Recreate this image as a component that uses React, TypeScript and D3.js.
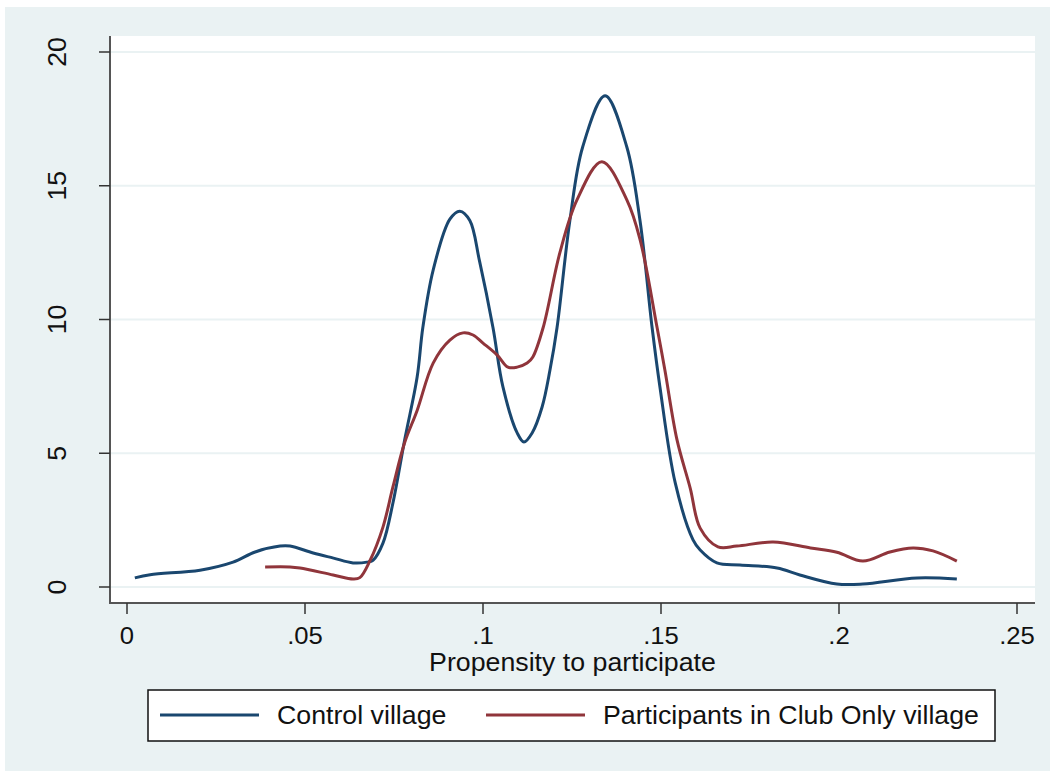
import React from "react";
import * as d3 from "d3";

const xTicks = [0, 0.05, 0.1, 0.15, 0.2, 0.25];
const xTickLabels = ["0", ".05", ".1", ".15", ".2", ".25"];
const yTicks = [0, 5, 10, 15, 20];
const yTickLabels = ["0", "5", "10", "15", "20"];

const seriesNames = ["Control village", "Participants in Club Only village"];
const seriesColors = ["#1a476f", "#90353b"];

const controlX = [0.0022, 0.0065, 0.0205, 0.0298, 0.036, 0.043, 0.0458, 0.0523, 0.058, 0.0635, 0.0674, 0.0691, 0.0719, 0.0747, 0.078, 0.0815, 0.0831, 0.086, 0.0907, 0.0935, 0.0963, 0.099, 0.1028, 0.1056, 0.1096, 0.1115, 0.1138, 0.1166, 0.1188, 0.1208, 0.1244, 0.128, 0.1343, 0.1404, 0.1441, 0.1475, 0.1497, 0.154, 0.159, 0.161, 0.1657, 0.1722, 0.1826, 0.189, 0.1994, 0.2067, 0.2219, 0.2331];
const controlY = [0.34, 0.46, 0.63, 0.93, 1.31, 1.53, 1.53, 1.27, 1.08, 0.9, 0.93, 1.0, 1.64, 3.14, 5.5, 7.85, 9.7, 11.85, 13.75, 14.05, 13.7, 12.2, 9.7, 7.48, 5.76, 5.42, 5.76, 6.73, 8.1, 9.7, 13.7, 16.45, 18.36, 16.45, 13.7, 9.7, 7.48, 3.89, 1.76, 1.38, 0.9, 0.82, 0.71, 0.45, 0.11, 0.11, 0.34, 0.3];

const clubX = [0.0388, 0.0458, 0.0486, 0.0579, 0.0635, 0.0654, 0.0683, 0.0719, 0.0747, 0.078, 0.0815, 0.086, 0.0907, 0.0944, 0.0972, 0.1, 0.104, 0.107, 0.1096, 0.1124, 0.114, 0.1169, 0.1216, 0.1264, 0.1334, 0.1404, 0.1441, 0.1489, 0.1511, 0.1545, 0.1582, 0.161, 0.166, 0.1713, 0.1815, 0.192, 0.1994, 0.2067, 0.2143, 0.2208, 0.2264, 0.2331];
const clubY = [0.75, 0.75, 0.71, 0.45, 0.3, 0.35, 1.0, 2.24, 3.74, 5.4, 6.6, 8.37, 9.23, 9.5, 9.42, 9.12, 8.67, 8.22, 8.22, 8.37, 8.6, 9.7, 12.5, 14.47, 15.9, 14.47, 13.0, 9.7, 8.1, 5.5, 3.7, 2.2, 1.5, 1.53, 1.68, 1.46, 1.3, 0.97, 1.31, 1.46, 1.35, 0.97];

const W = 1050;
const H = 771;
const plotLeft = 110;
const plotRight = 1035;
const plotTop = 36;
const plotBottom = 603;
const bg = "#eaf2f3";
const font = "'Liberation Sans', Arial, sans-serif";
const sx = 1.07;

export default function App() {
  const x = d3.scaleLinear().domain([0, 0.25]).range([127, 1017]);
  const y = d3.scaleLinear().domain([0, 20]).range([587, 52]);
  const line = d3
    .line<[number, number]>()
    .x((d) => x(d[0]))
    .y((d) => y(d[1]))
    .curve(d3.curveCatmullRom.alpha(0.5));

  const control: [number, number][] = controlX.map((v, i) => [v, controlY[i]]);
  const club: [number, number][] = clubX.map((v, i) => [v, clubY[i]]);

  const legendItems = [
    { name: seriesNames[0], color: seriesColors[0], x0: 160 },
    { name: seriesNames[1], color: seriesColors[1], x0: 486 },
  ];

  return (
    <svg
      width={W}
      height={H}
      style={{ position: "absolute", left: 0, top: 0, display: "block", background: "#fff" }}
      fontFamily={font}
    >
      <rect x={5} y={7} width={W - 5} height={H - 7} fill={bg} />
      <rect x={plotLeft} y={plotTop} width={plotRight - plotLeft} height={plotBottom - plotTop} fill="#fff" />
      {yTicks.map((t) => (
        <line key={"g" + t} x1={plotLeft} x2={plotRight} y1={y(t)} y2={y(t)} stroke={bg} strokeWidth={2} />
      ))}
      <path d={line(control) || ""} fill="none" stroke={seriesColors[0]} strokeWidth={3} strokeLinejoin="round" />
      <path d={line(club) || ""} fill="none" stroke={seriesColors[1]} strokeWidth={3} strokeLinejoin="round" />
      <line x1={plotLeft} x2={plotLeft} y1={plotTop} y2={plotBottom + 1} stroke="#555" strokeWidth={2} />
      <line x1={plotLeft - 1} x2={plotRight} y1={plotBottom} y2={plotBottom} stroke="#555" strokeWidth={2} />
      {yTicks.map((t, i) => (
        <g key={"y" + t}>
          <line x1={plotLeft - 11} x2={plotLeft} y1={y(t)} y2={y(t)} stroke="#333" strokeWidth={1.5} />
          <text
            transform={`translate(${66},${y(t)}) rotate(-90) scale(${sx},1)`}
            textAnchor="middle"
            fontSize={25}
            fill="#111"
          >
            {yTickLabels[i]}
          </text>
        </g>
      ))}
      {xTicks.map((t, i) => (
        <g key={"x" + t}>
          <line x1={x(t)} x2={x(t)} y1={plotBottom} y2={plotBottom + 11} stroke="#333" strokeWidth={1.5} />
          <text
            transform={`translate(${x(t)},644) scale(${sx},1)`}
            textAnchor="middle"
            fontSize={24}
            fill="#111"
          >
            {xTickLabels[i]}
          </text>
        </g>
      ))}
      <text
        transform={`translate(${(plotLeft + plotRight) / 2},671) scale(${sx},1)`}
        textAnchor="middle"
        fontSize={25}
        fill="#111"
      >
        Propensity to participate
      </text>
      <rect x={148} y={690} width={847} height={51} fill="#fff" stroke="#111" strokeWidth={1.5} />
      {legendItems.map((it) => (
        <g key={it.name}>
          <line x1={it.x0} x2={it.x0 + 99} y1={715} y2={715} stroke={it.color} strokeWidth={3} />
          <text transform={`translate(${it.x0 + 117},724) scale(${sx},1)`} fontSize={25} fill="#111">
            {it.name}
          </text>
        </g>
      ))}
    </svg>
  );
}
